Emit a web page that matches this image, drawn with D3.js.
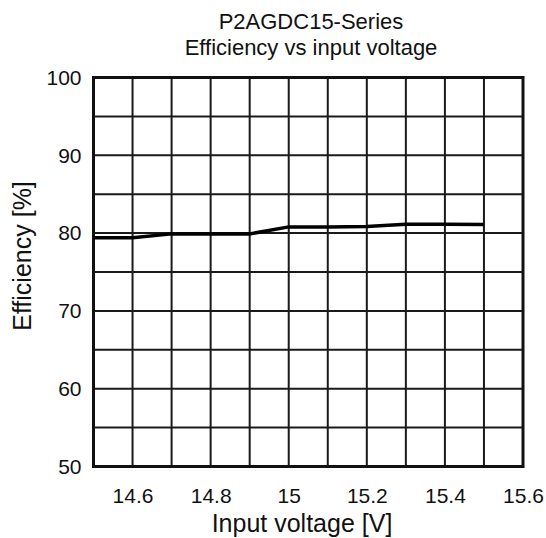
<!DOCTYPE html>
<html>
<head>
<meta charset="utf-8">
<script src="https://cdn.jsdelivr.net/npm/d3@7"></script>
<style>
  body { margin: 0; background: #fff; }
  text { font-family: "Liberation Sans", Arial, sans-serif; fill: #111; }
</style>
</head>
<body>
<div id="chart"></div>
<script>
// data
const inputVoltage = [14.5, 14.6, 14.7, 14.8, 14.9, 15.0, 15.1, 15.2, 15.3, 15.4, 15.5];
const efficiency = [79.4, 79.4, 79.9, 79.9, 79.9, 80.8, 80.8, 80.85, 81.15, 81.15, 81.1];
const xTickLabels = [14.6, 14.8, 15, 15.2, 15.4, 15.6];
const yTickLabels = [50, 60, 70, 80, 90, 100];
const xGrid = d3.range(0, 12).map(i => +(14.5 + i * 0.1).toFixed(1));
const yGrid = d3.range(0, 11).map(i => 50 + i * 5);
const titleLines = ['P2AGDC15-Series', 'Efficiency vs input voltage'];

const width = 546, height = 538;
const margin = { top: 77.5, right: 23, bottom: 71.5, left: 93.5 };

const svg = d3.select('#chart')
    .append('svg')
    .attr('width', width)
    .attr('height', height);

const x = d3.scaleLinear().domain([14.5, 15.6]).range([margin.left, width - margin.right]);
const y = d3.scaleLinear().domain([50, 100]).range([height - margin.bottom, margin.top]);

// grid
const grid = svg.append('g').attr('stroke', '#1a1a1a').attr('stroke-width', 2);
grid.selectAll('line.v')
    .data(xGrid)
    .enter()
    .append('line')
    .attr('class', 'v')
    .attr('x1', d => x(d)).attr('x2', d => x(d))
    .attr('y1', y(50)).attr('y2', y(100));
grid.selectAll('line.h')
    .data(yGrid)
    .enter()
    .append('line')
    .attr('class', 'h')
    .attr('x1', x(14.5)).attr('x2', x(15.6))
    .attr('y1', d => y(d)).attr('y2', d => y(d));

// frame
svg.append('rect')
    .attr('x', x(14.5)).attr('y', y(100))
    .attr('width', x(15.6) - x(14.5))
    .attr('height', y(50) - y(100))
    .attr('fill', 'none')
    .attr('stroke', '#111')
    .attr('stroke-width', 3);

// data line
const line = d3.line()
    .x((d, i) => x(inputVoltage[i]))
    .y(d => y(d));
svg.append('path')
    .datum(efficiency)
    .attr('d', line)
    .attr('fill', 'none')
    .attr('stroke', '#000')
    .attr('stroke-width', 3.5);

// axes (labels only, grid drawn above)
const xAxis = svg.append('g')
    .attr('transform', `translate(0,${y(50)})`)
    .call(d3.axisBottom(x).tickValues(xTickLabels).tickSize(0).tickPadding(22).tickFormat(d3.format('')));
xAxis.select('.domain').remove();
xAxis.selectAll('text').attr('font-size', 21).attr('fill', '#111');

const yAxis = svg.append('g')
    .attr('transform', `translate(${x(14.5)},0)`)
    .call(d3.axisLeft(y).tickValues(yTickLabels).tickSize(0).tickPadding(12));
yAxis.select('.domain').remove();
yAxis.selectAll('text').attr('font-size', 21).attr('fill', '#111');

// titles
svg.append('g')
    .selectAll('text')
    .data(titleLines)
    .enter()
    .append('text')
    .attr('x', 311)
    .attr('y', (d, i) => 29 + i * 26)
    .attr('text-anchor', 'middle')
    .attr('font-size', 22)
    .text(d => d);

svg.append('text')
    .attr('x', 302)
    .attr('y', 532)
    .attr('text-anchor', 'middle')
    .attr('font-size', 25)
    .text('Input voltage [V]');

svg.append('text')
    .attr('transform', 'translate(31,256) rotate(-90)')
    .attr('text-anchor', 'middle')
    .attr('font-size', 25)
    .text('Efficiency [%]');
</script>
</body>
</html>
